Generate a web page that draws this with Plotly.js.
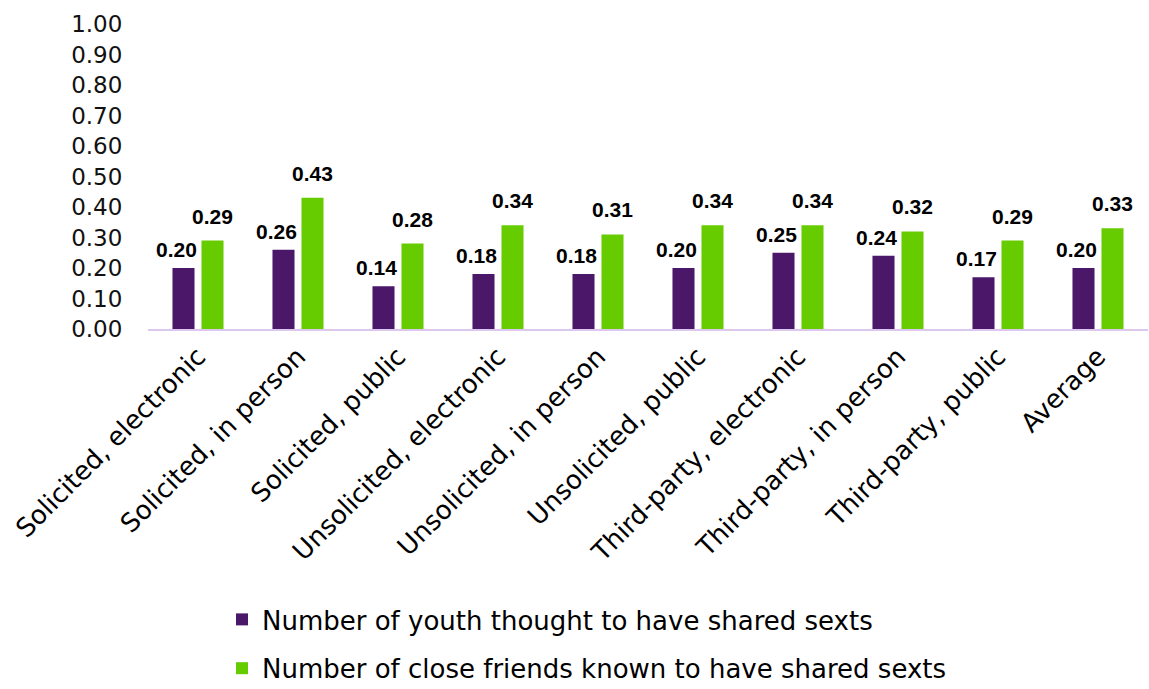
<!DOCTYPE html>
<html>
<head>
<meta charset="utf-8">
<script src="https://cdn.plot.ly/plotly-3.0.1.min.js"></script>
<style>html,body{margin:0;padding:0;background:#fff;}#chart{width:1149px;height:689px;}</style>
</head>
<body>
<div id="chart"></div>
<script>
const categories = ["Solicited, electronic","Solicited, in person","Solicited, public","Unsolicited, electronic","Unsolicited, in person","Unsolicited, public","Third-party, electronic","Third-party, in person","Third-party, public","Average"];
const youthValues = [0.20,0.26,0.14,0.18,0.18,0.20,0.25,0.24,0.17,0.20];
const friendValues = [0.29,0.43,0.28,0.34,0.31,0.34,0.34,0.32,0.29,0.33];
const seriesNames = ["Number of youth thought to have shared sexts","Number of close friends known to have shared sexts"];
const colors = ["#4B1869","#66CC00"];
const FONT = "'DejaVu Sans', sans-serif";
const LABELFONT = "'Liberation Sans', Arial, sans-serif";

const traces = [
  {type:'bar', x:categories, y:youthValues, name:seriesNames[0], marker:{color:colors[0]}, legendgroup:'a', hoverinfo:'none'},
  {type:'bar', x:categories, y:friendValues, name:seriesNames[1], marker:{color:colors[1]}, legendgroup:'b', hoverinfo:'none'}
];

const annotations = [];
categories.forEach((c,i)=>{
  annotations.push({x:c, y:youthValues[i], xref:'x', yref:'y', text:youthValues[i].toFixed(2), showarrow:false,
    xshift:-21.5, yanchor:'bottom', yshift:5, font:{family:LABELFONT, size:21, color:'#000', weight:'bold'}});
  annotations.push({x:c, y:friendValues[i], xref:'x', yref:'y', text:friendValues[i].toFixed(2), showarrow:false,
    xshift:14.5, yanchor:'bottom', yshift:11, font:{family:LABELFONT, size:21, color:'#000', weight:'bold'}});
});

const layout = {
  width:1149, height:689,
  margin:{l:148, r:1, t:24, b:360, autoexpand:false},
  paper_bgcolor:'#fff', plot_bgcolor:'#fff',
  barmode:'group', bargap:0.42, bargroupgap:0.24,
  font:{family:FONT, color:'#000'},
  showlegend:true,
  legend:{x:222/1149, xref:'container', xanchor:'left', yref:'container', y:0.135, yanchor:'top', orientation:'v', traceorder:'grouped', tracegroupgap:12,
    font:{family:FONT, size:26, color:'#000'}, itemwidth:30},
  xaxis:{type:'category', showline:true, linecolor:'#DCC8EE', linewidth:2, tickangle:-45, ticks:'', automargin:false,
    tickfont:{family:FONT, size:26, color:'#000'}, showgrid:false, zeroline:false, fixedrange:true},
  yaxis:{range:[0,1], dtick:0.1, tick0:0, tickformat:'.2f', showgrid:false, zeroline:false, showline:false, automargin:false,
    ticks:'outside', ticklen:20, tickcolor:'rgba(0,0,0,0)', tickfont:{family:FONT, size:23, color:'#111'}, fixedrange:true},
  annotations:annotations
};

Plotly.newPlot('chart', traces, layout, {displayModeBar:false, staticPlot:true});
</script>
</body>
</html>
